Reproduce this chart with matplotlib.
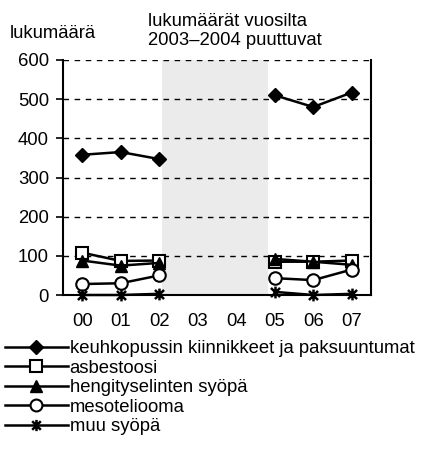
import numpy as np
import matplotlib
matplotlib.use("Agg")
from matplotlib import pyplot as plt
from matplotlib.path import Path

plt.rcParams['font.family'] = ['Liberation Sans', 'DejaVu Sans']

# data
years = ['00', '01', '02', '03', '04', '05', '06', '07']
keuhko = [358, 365, 347, np.nan, np.nan, 510, 480, 517]
asbestoosi = [108, 87, 88, np.nan, np.nan, 85, 85, 88]
hengitys = [88, 75, 82, np.nan, np.nan, 92, 85, 77]
meso = [28, 30, 50, np.nan, np.nan, 43, 38, 65]
muu = [0, 0, 3, np.nan, np.nan, 8, 0, 3]

names = ['keuhkopussin kiinnikkeet ja paksuuntumat', 'asbestoosi',
         'hengityselinten syöpä', 'mesoteliooma', 'muu syöpä']

# asterisk marker: X plus vertical bar
star = Path([(-1, -1), (1, 1), (-1, 1), (1, -1), (0, -1.3), (0, 1.3)],
            [Path.MOVETO, Path.LINETO, Path.MOVETO, Path.LINETO, Path.MOVETO, Path.LINETO])

FS = 13.3

fig = plt.figure(figsize=(4.26, 4.53), dpi=100)
ax = fig.add_axes([63 / 426, 1 - 295 / 453, 308 / 426, 235 / 453])

x = np.arange(len(years))
ax.axvspan(2.08, 4.82, color='#ebebeb', zorder=0, lw=0)
for v in [100, 200, 300, 400, 500, 600]:
    ax.axhline(v, color='black', lw=1, ls=(0, (4, 4)), zorder=1)

styles = [
    (keuhko, dict(marker='D', ms=7.5, mfc='black', mec='black')),
    (asbestoosi, dict(marker='s', ms=8.5, mfc='white', mec='black', mew=1.5)),
    (hengitys, dict(marker='^', ms=9, mfc='black', mec='black')),
    (meso, dict(marker='o', ms=9, mfc='white', mec='black', mew=1.5)),
    (muu, dict(marker=star, ms=8.5, mfc='none', mec='black', mew=1.8)),
]
handles = []
for (vals, st), name in zip(styles, names):
    h, = ax.plot(x, vals, color='black', lw=1.8, label=name, zorder=3, clip_on=False, **st)
    handles.append(h)

ax.set_xlim(-0.5, 7.5)
ax.set_ylim(0, 600)
ax.set_yticks(range(0, 601, 100))
ax.set_xticks(x)
ax.set_xticklabels(years)
ax.tick_params(axis='x', length=0, pad=13, labelsize=FS)
ax.tick_params(axis='y', length=5, width=1.2, direction='out', pad=5, labelsize=FS)
ax.spines['top'].set_visible(False)
for s in ['left', 'right', 'bottom']:
    ax.spines[s].set_linewidth(1.5)

fig.text(10 / 426, 1 - 34 / 453, 'lukumäärä', fontsize=FS, va='center')
fig.text(148 / 426, 1 - 31 / 453, 'lukumäärät vuosilta\n2003–2004 puuttuvat',
         fontsize=FS, va='center', linespacing=1.15)

fig.legend(handles=handles, loc='upper left', bbox_to_anchor=(5 / 426, 1 - 340 / 453),
           frameon=False, fontsize=FS, handlelength=3.4, handletextpad=0.1,
           labelspacing=0.14, borderaxespad=0, borderpad=0, markerscale=0.95)

fig.savefig('out.png', dpi=100)
